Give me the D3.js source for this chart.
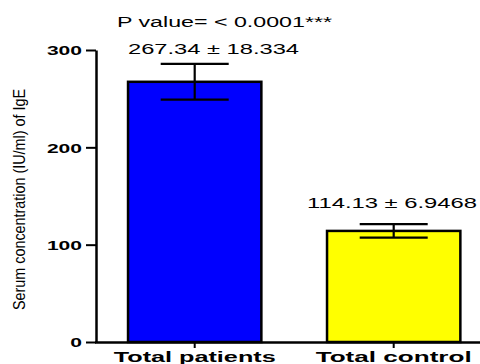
<!DOCTYPE html>
<html><head><meta charset="utf-8">
<script src="https://cdn.jsdelivr.net/npm/d3@7"></script>
<style>body{margin:0;background:#fff}svg{display:block}</style>
</head><body>
<script>
const categories = ["Total patients", "Total control"];
const means = [267.34, 114.13];
const errors = [18.334, 6.9468];
const colors = ["#0000ff", "#ffff00"];
const valueLabels = ["267.34 ± 18.334", "114.13 ± 6.9468"];
const yTicks = [0, 100, 200, 300];
const title = "P value= < 0.0001***";
const yTitle = "Serum concentration (IU/ml) of IgE";

const W = 480, H = 364;
const FONT = "Liberation Sans, Arial, sans-serif";
const svg = d3.select("body").append("svg").attr("width", W).attr("height", H);

const x = d3.scaleBand().domain(categories).range([96, 492.4]).paddingInner(0.33).paddingOuter(0.161);
const y = d3.scaleLinear().domain([0, 300]).range([342, 50]);

// bars
svg.selectAll("rect.bar").data(categories).enter().append("rect")
  .attr("x", d => x(d)).attr("width", x.bandwidth())
  .attr("y", (d,i) => y(means[i])).attr("height", (d,i) => y(0) - y(means[i]))
  .attr("fill", (d,i) => colors[i]).attr("stroke", "#000").attr("stroke-width", 2.5);

// error bars
const capHalf = 34;
categories.forEach((c, i) => {
  const cx = x(c) + x.bandwidth()/2;
  const g = svg.append("g").attr("stroke", "#000").attr("stroke-width", 2.2);
  g.append("line").attr("x1", cx).attr("x2", cx).attr("y1", y(means[i]+errors[i])).attr("y2", y(means[i]-errors[i]));
  g.append("line").attr("x1", cx-capHalf).attr("x2", cx+capHalf).attr("y1", y(means[i]+errors[i])).attr("y2", y(means[i]+errors[i]));
  g.append("line").attr("x1", cx-capHalf).attr("x2", cx+capHalf).attr("y1", y(means[i]-errors[i])).attr("y2", y(means[i]-errors[i]));
});

// y axis
const yAxis = svg.append("g").attr("transform", "translate(96,0)")
  .call(d3.axisLeft(y).tickValues(yTicks).tickSize(10).tickPadding(4).tickSizeOuter(0));
yAxis.select(".domain").attr("stroke-width", 2.5);
yAxis.selectAll(".tick line").attr("stroke-width", 2);
yAxis.selectAll(".tick text").attr("font-family", FONT)
  .attr("font-size", 13).attr("font-weight", "bold").attr("fill", "#000")
  .attr("dy", "0.36em")
  .attr("textLength", d => String(d).length * 11.7).attr("lengthAdjust", "spacingAndGlyphs");

// x axis
const xAxis = svg.append("g").attr("transform", "translate(0,342)")
  .call(d3.axisBottom(x).tickSize(6).tickPadding(4).tickSizeOuter(0));
xAxis.select(".domain").attr("d", "M95,0.5H480").attr("stroke-width", 2.5);
xAxis.selectAll(".tick line").attr("stroke-width", 2);
const xLabelW = [162, 156];
xAxis.selectAll(".tick text").attr("font-family", FONT)
  .attr("font-size", 14.5).attr("font-weight", "bold").attr("fill", "#000")
  .attr("dy", null).attr("y", 20)
  .attr("textLength", (d,i) => xLabelW[i]).attr("lengthAdjust", "spacingAndGlyphs");

// value labels
const labelX = [213.5, 392];
const labelY = [54, 208];
const labelW = [171, 170];
valueLabels.forEach((t, i) => {
  svg.append("text").attr("x", labelX[i]).attr("y", labelY[i]).attr("text-anchor", "middle")
    .attr("font-family", FONT).attr("font-size", 15).attr("fill", "#000")
    .attr("textLength", labelW[i]).attr("lengthAdjust", "spacingAndGlyphs").text(t);
});

// title
svg.append("text").attr("x", 224.5).attr("y", 27).attr("text-anchor", "middle")
  .attr("font-family", FONT).attr("font-size", 14).attr("fill", "#000")
  .attr("textLength", 215).attr("lengthAdjust", "spacingAndGlyphs").text(title);

// y title
svg.append("text").attr("transform", "translate(25,199.5) rotate(-90)").attr("text-anchor", "middle")
  .attr("font-family", FONT).attr("font-size", 17)
  .attr("textLength", 221).attr("lengthAdjust", "spacingAndGlyphs").attr("fill", "#000").text(yTitle);
</script>
</body></html>
